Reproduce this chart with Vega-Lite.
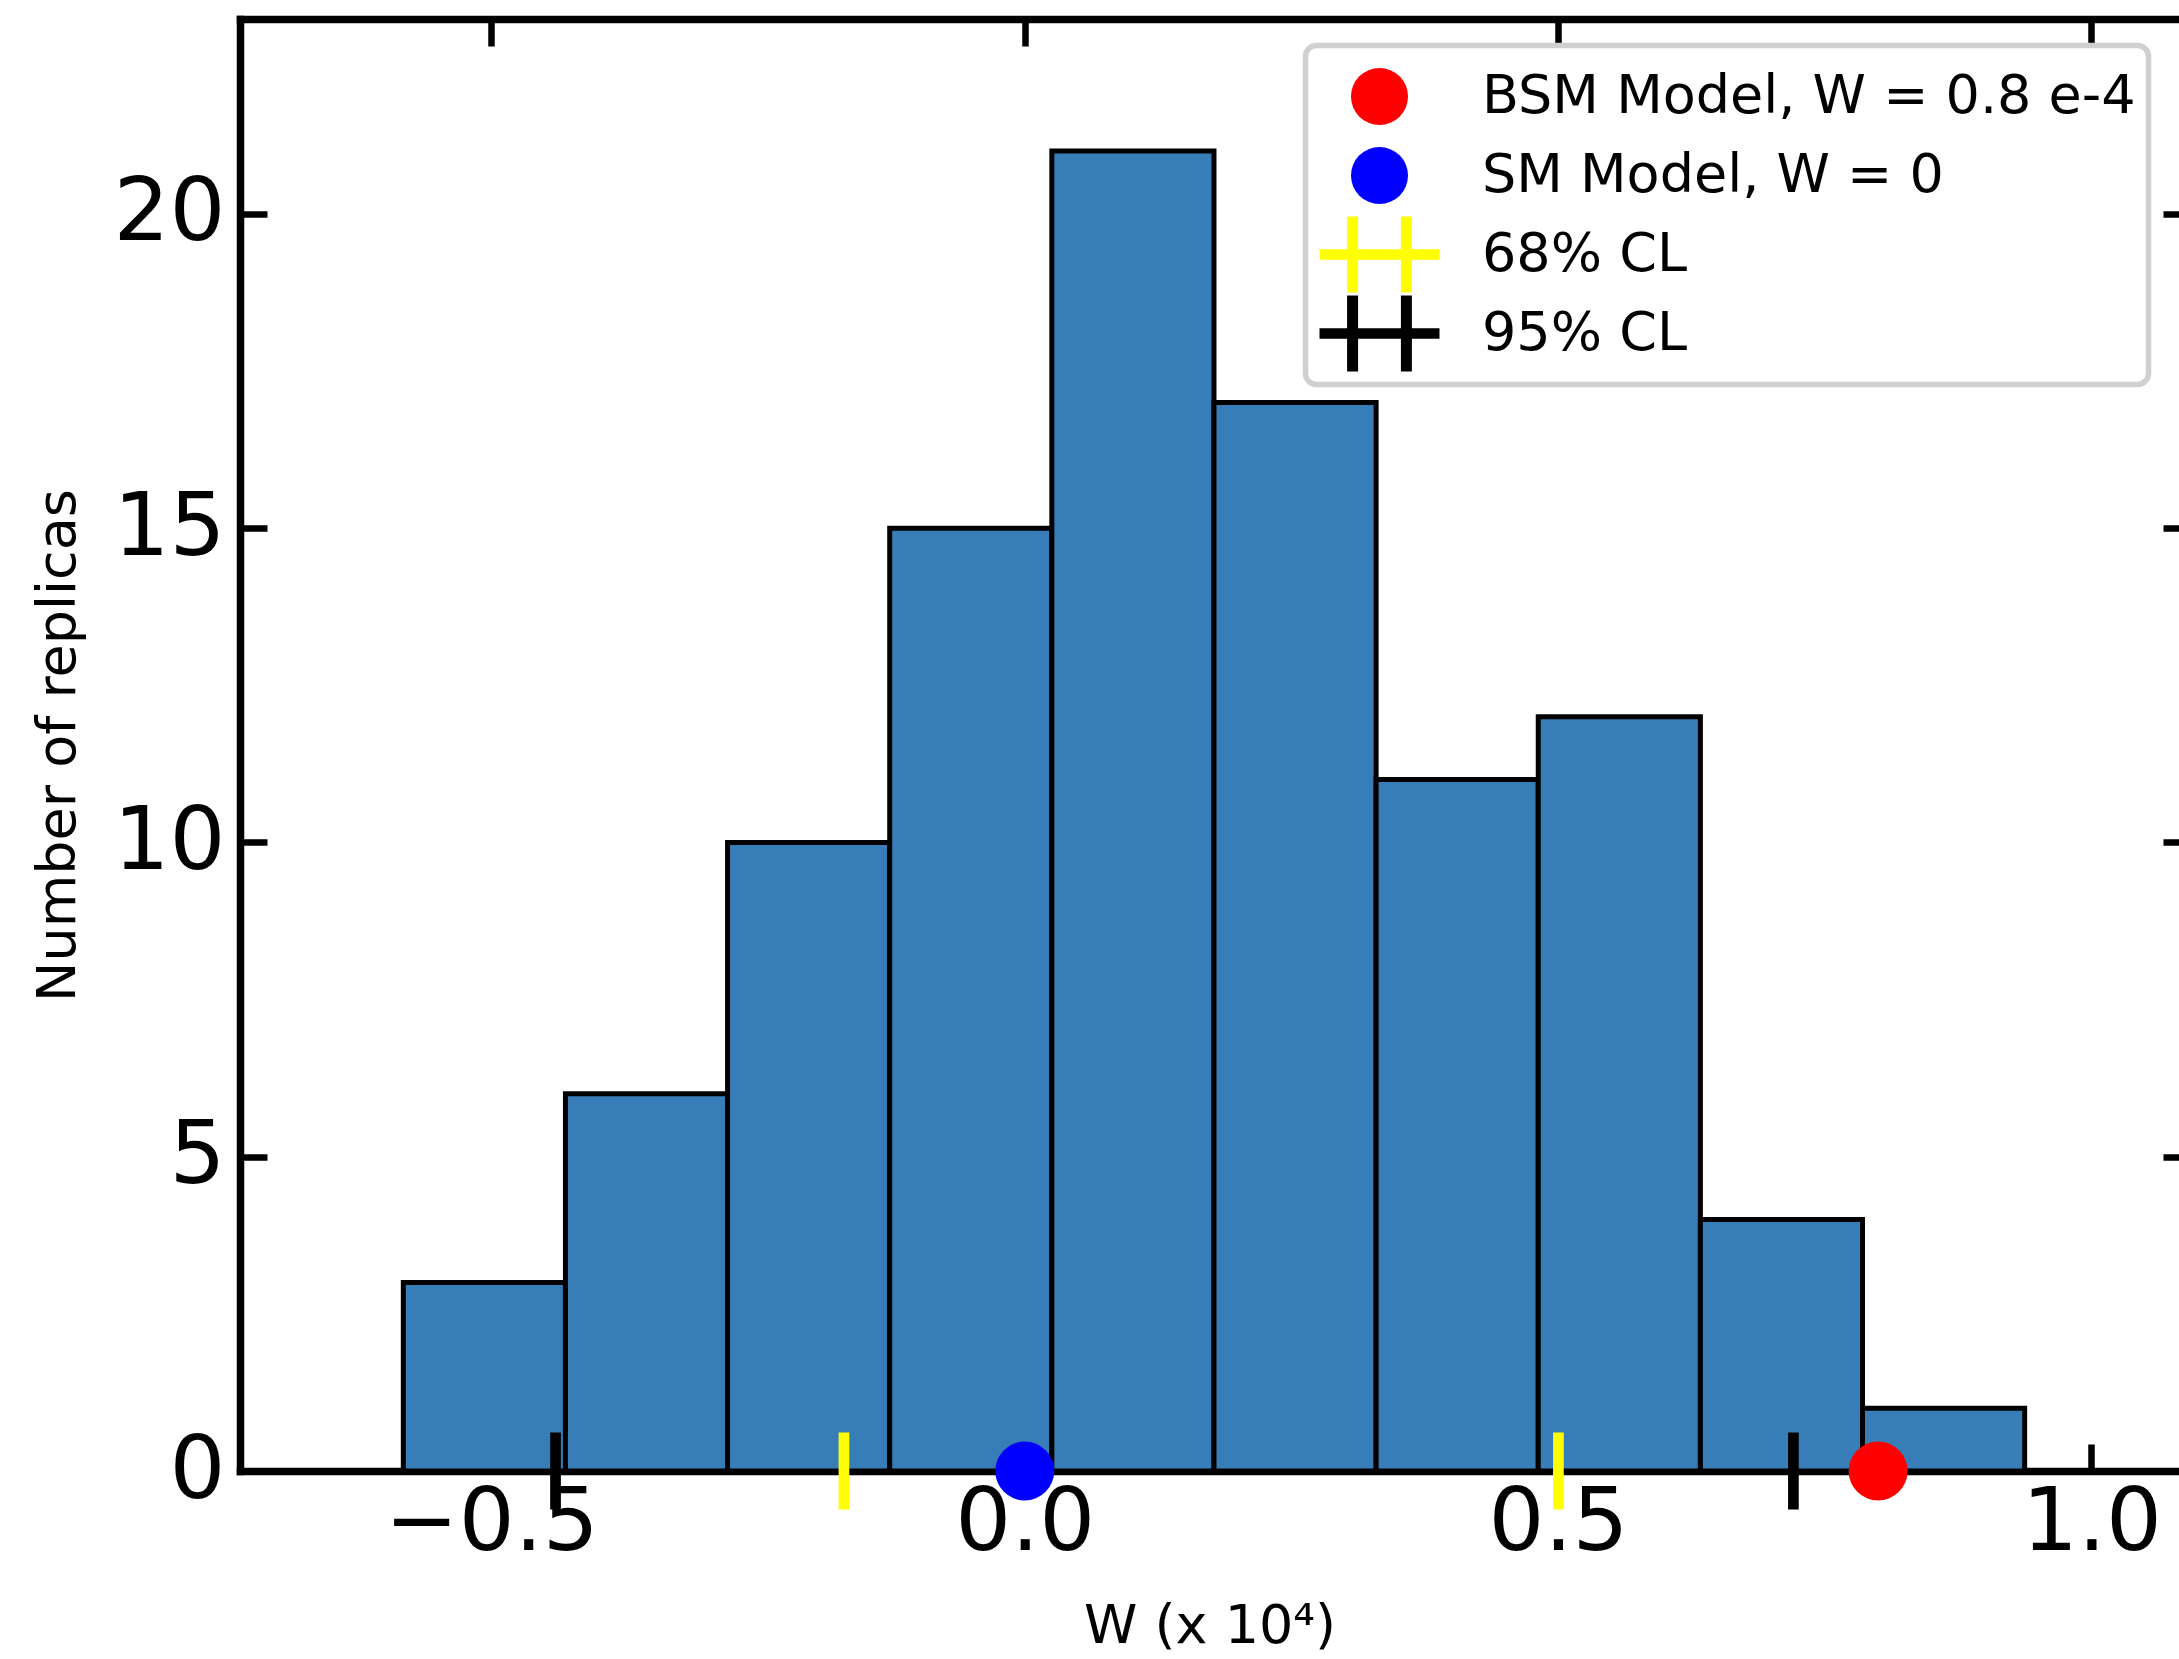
{
  "$schema": "https://vega.github.io/schema/vega-lite/v6.json",
  "width": 1939,
  "height": 1452,
  "autosize": "none",
  "padding": {"left": 240, "top": 19, "right": 0, "bottom": 188},
  "background": "white",
  "config": {
    "font": "DejaVu Sans",
    "view": {"stroke": null},
    "legend": {"strokeWidth": 5.5},
    "axis": {"grid": false, "domainColor": "black", "tickColor": "black", "labelColor": "black", "titleColor": "black", "domainCap": "square", "titleFontWeight": "normal", "labelFont": "DejaVu Sans", "titleFont": "DejaVu Sans", "labelLimit": 0}
  },
  "datasets": {
    "bins": [
      {"x0": -0.5826, "x1": -0.4306, "count": 3},
      {"x0": -0.4306, "x1": -0.2786, "count": 6},
      {"x0": -0.2786, "x1": -0.1266, "count": 10},
      {"x0": -0.1266, "x1": 0.0254, "count": 15},
      {"x0": 0.0254, "x1": 0.1774, "count": 21},
      {"x0": 0.1774, "x1": 0.3294, "count": 17},
      {"x0": 0.3294, "x1": 0.4814, "count": 11},
      {"x0": 0.4814, "x1": 0.6334, "count": 12},
      {"x0": 0.6334, "x1": 0.7854, "count": 4},
      {"x0": 0.7854, "x1": 0.9374, "count": 1}
    ],
    "models": [
      {"x": 0.8, "y": 0, "series": "BSM Model, W = 0.8 e-4"},
      {"x": 0.0, "y": 0, "series": "SM Model, W = 0"}
    ],
    "limits": [
      {"x": -0.1695, "y": 0, "series": "68% CL"},
      {"x": 0.5003, "y": 0, "series": "68% CL"},
      {"x": -0.4399, "y": 0, "series": "95% CL"},
      {"x": 0.7206, "y": 0, "series": "95% CL"}
    ]
  },
  "layer": [
    {
      "data": {"name": "bins"},
      "mark": {"type": "rect", "fill": "#377eb8", "stroke": "black", "strokeWidth": 5},
      "encoding": {
        "x": {"field": "x0", "type": "quantitative",
          "scale": {"domain": [-0.7357, 1.0821], "nice": false, "zero": false},
          "axis": {"orient": "bottom", "values": [-0.5, 0, 0.5, 1.0], "format": ".1f", "tickSize": -27, "tickWidth": 6.5, "domainWidth": 7.5, "labelFontSize": 88, "labelPadding": 35, "title": "W (x 10⁴)", "titleFontSize": 54, "titlePadding": 32}},
        "x2": {"field": "x1"},
        "y": {"field": "count", "type": "quantitative",
          "scale": {"domain": [0, 23.1], "nice": false, "zero": false},
          "axis": {"orient": "left", "values": [0, 5, 10, 15, 20], "tickSize": -27, "tickWidth": 6.5, "domainWidth": 7.5, "labelFontSize": 88, "labelPadding": 42, "title": "Number of replicas", "titleFontSize": 54, "titlePadding": 28}},
        "y2": {"datum": 0}
      }
    },
    {
      "data": {"name": "limits"},
      "mark": {"type": "tick", "orient": "vertical", "size": 77, "thickness": 10.7, "opacity": 1},
      "encoding": {
        "x": {"field": "x", "type": "quantitative", "axis": null},
        "y": {"field": "y", "type": "quantitative", "axis": null},
        "fill": {"field": "series", "type": "nominal", "legend": null,
          "scale": {"domain": ["68% CL", "95% CL"], "range": ["#ffff00", "#000000"]}}
      }
    },
    {
      "data": {"name": "models"},
      "mark": {"type": "point", "filled": true, "size": 3481, "opacity": 1},
      "encoding": {
        "x": {"field": "x", "type": "quantitative",
          "axis": {"orient": "top", "values": [-0.5, 0, 0.5, 1.0], "labels": false, "title": null, "tickSize": -27, "tickWidth": 6.5, "domainWidth": 7.5}},
        "y": {"field": "y", "type": "quantitative",
          "axis": {"orient": "right", "values": [0, 5, 10, 15, 20], "labels": false, "title": null, "tickSize": -16, "tickWidth": 6.5, "domain": false}},
        "color": {"field": "series", "type": "nominal",
          "scale": {"domain": ["BSM Model, W = 0.8 e-4", "SM Model, W = 0", "68% CL", "95% CL"], "range": ["#ff0000", "#0000ff", "#ffff00", "#000000"]},
          "legend": {"title": null, "orient": "none", "legendX": 1065.5, "legendY": 26.5, "padding": 12.5, "clipHeight": 77, "rowPadding": 2, "symbolOffset": 32, "labelOffset": 73, "symbolSize": 3249, "labelFontSize": 54, "labelFont": "DejaVu Sans", "labelLimit": 0, "labelColor": "black", "strokeColor": "#d0d0d0", "fillColor": "rgba(255,255,255,0.8)", "cornerRadius": 11,
            "encode": {"legend": {"update": {"strokeWidth": {"value": 5.5}}}, "symbols": {"update": {"stroke": {"value": "transparent"}, "opacity": {"value": 1}}}}}},
        "shape": {"field": "series", "type": "nominal",
          "scale": {"domain": ["BSM Model, W = 0.8 e-4", "SM Model, W = 0", "68% CL", "95% CL"], "range": ["circle", "circle", "M-2.105,-0.182H2.105V0.182H-2.105ZM-1.137,-1.333H-0.751V1.333H-1.137ZM0.751,-1.333H1.137V1.333H0.751Z", "M-2.105,-0.182H2.105V0.182H-2.105ZM-1.137,-1.333H-0.751V1.333H-1.137ZM0.751,-1.333H1.137V1.333H0.751Z"]},
          "legend": {"title": null, "orient": "none", "legendX": 1065.5, "legendY": 26.5, "padding": 12.5, "clipHeight": 77, "rowPadding": 2, "symbolOffset": 32, "labelOffset": 73, "symbolSize": 3249, "labelFontSize": 54, "labelFont": "DejaVu Sans", "labelLimit": 0, "labelColor": "black", "strokeColor": "#d0d0d0", "fillColor": "rgba(255,255,255,0.8)", "cornerRadius": 11,
            "encode": {"legend": {"update": {"strokeWidth": {"value": 5.5}}}, "symbols": {"update": {"stroke": {"value": "transparent"}, "opacity": {"value": 1}}}}}}
      }
    }
  ],
  "resolve": {"axis": {"x": "independent", "y": "independent"}}
}
